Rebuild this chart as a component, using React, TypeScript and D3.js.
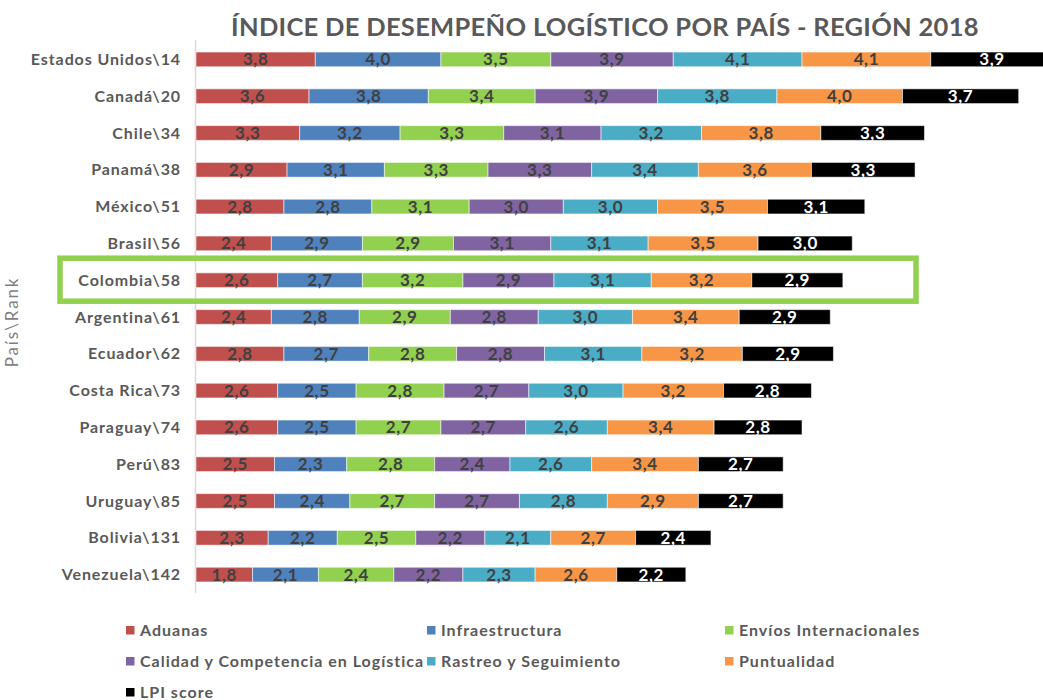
import React from "react";
import * as d3 from "d3";

const countries = [
  "Estados Unidos\\14", "Canadá\\20", "Chile\\34", "Panamá\\38", "México\\51", "Brasil\\56",
  "Colombia\\58", "Argentina\\61", "Ecuador\\62", "Costa Rica\\73", "Paraguay\\74", "Perú\\83",
  "Uruguay\\85", "Bolivia\\131", "Venezuela\\142",
];
const seriesNames = [
  "Aduanas", "Infraestructura", "Envíos Internacionales",
  "Calidad y Competencia en Logística", "Rastreo y Seguimiento", "Puntualidad", "LPI score",
];
const aduanas = [3.8, 3.6, 3.3, 2.9, 2.8, 2.4, 2.6, 2.4, 2.8, 2.6, 2.6, 2.5, 2.5, 2.3, 1.8];
const infraestructura = [4.0, 3.8, 3.2, 3.1, 2.8, 2.9, 2.7, 2.8, 2.7, 2.5, 2.5, 2.3, 2.4, 2.2, 2.1];
const envios = [3.5, 3.4, 3.3, 3.3, 3.1, 2.9, 3.2, 2.9, 2.8, 2.8, 2.7, 2.8, 2.7, 2.5, 2.4];
const calidad = [3.9, 3.9, 3.1, 3.3, 3.0, 3.1, 2.9, 2.8, 2.8, 2.7, 2.7, 2.4, 2.7, 2.2, 2.2];
const rastreo = [4.1, 3.8, 3.2, 3.4, 3.0, 3.1, 3.1, 3.0, 3.1, 3.0, 2.6, 2.6, 2.8, 2.1, 2.3];
const puntualidad = [4.1, 4.0, 3.8, 3.6, 3.5, 3.5, 3.2, 3.4, 3.2, 3.2, 3.4, 3.4, 2.9, 2.7, 2.6];
const lpi = [3.9, 3.7, 3.3, 3.3, 3.1, 3.0, 2.9, 2.9, 2.9, 2.8, 2.8, 2.7, 2.7, 2.4, 2.2];
const seriesValues = [aduanas, infraestructura, envios, calidad, rastreo, puntualidad, lpi];
const colors = ["#c0504d", "#4f81bd", "#92d050", "#8064a2", "#4bacc6", "#f79646", "#000000"];
const highlight = "Colombia\\58";
const title = "ÍNDICE DE DESEMPEÑO LOGÍSTICO POR PAÍS - REGIÓN 2018";
const yTitle = "País\\Rank";

const W = 1043, H = 700;
const FONT = "Lato, 'Open Sans', sans-serif";

export default function App() {
  const x = d3.scaleLinear().domain([0, 27]).range([196, 196 + 27 * 31.4]);
  const y = d3.scaleBand().domain(countries).range([41, 593]).paddingInner(0.6).paddingOuter(0.3);
  const fmt = (v: number) => v.toFixed(1).replace(".", ",");

  const rows = countries.map((c, i) => {
    let acc = 0;
    return seriesValues.map((s, k) => {
      const v = s[i];
      const seg = { k, x0: acc, x1: acc + v, v };
      acc += v;
      return seg;
    });
  });

  const bw = y.bandwidth();
  const hy = (y(highlight) as number) + bw / 2;

  const legendCols = [126, 427, 725];
  const legendRows = [630, 661, 692];

  return (
    <svg width={W} height={H} style={{ position: "absolute", left: 0, top: 0, background: "#fff" }}>
      <text x={605} y={36} textAnchor="middle" fontFamily={FONT} fontWeight={700} fontSize={25.5} letterSpacing={0.3} fill="#595959">
        {title}
      </text>
      <text transform={`translate(18,${322}) rotate(-90)`} textAnchor="middle" fontFamily={FONT} fontSize={17} letterSpacing={1.8} fill="#7f7f7f">
        {yTitle}
      </text>
      <line x1={195.5} x2={195.5} y1={40} y2={593} stroke="#d9d9d9" strokeWidth={1.5} />
      {countries.map((c, i) => {
        const cy = (y(c) as number) + bw / 2;
        return (
          <g key={c}>
            <text x={181} y={cy + 5.5} textAnchor="end" fontFamily={FONT} fontWeight={700} fontSize={16} letterSpacing={0.9} fill="#595959">
              {c}
            </text>
            {rows[i].map((s) => (
              <g key={s.k}>
                <rect
                  x={x(s.x0)}
                  y={y(c) as number}
                  width={x(s.x1) - x(s.x0)}
                  height={bw}
                  fill={colors[s.k]}
                  stroke="rgba(255,255,255,0.55)"
                  strokeWidth={1}
                />
                <text
                  x={(x(s.x0) + x(s.x1)) / 2}
                  y={cy + 6}
                  textAnchor="middle"
                  fontFamily={FONT}
                  fontWeight={700}
                  fontSize={17}
                  letterSpacing={0.6}
                  fill={s.k === 6 ? "#ffffff" : "#404040"}
                >
                  {fmt(s.v)}
                </text>
              </g>
            ))}
          </g>
        );
      })}
      <rect x={60} y={hy - 22} width={856} height={43} fill="none" stroke="#92d050" strokeWidth={5.5} />
      {seriesNames.map((n, k) => {
        const lx = legendCols[k % 3];
        const ly = legendRows[Math.floor(k / 3)];
        return (
          <g key={n}>
            <rect x={lx} y={ly - 4} width={8.5} height={8.5} fill={colors[k]} />
            <text x={lx + 14} y={ly + 6} fontFamily={FONT} fontWeight={700} fontSize={16} letterSpacing={1} fill="#595959">
              {n}
            </text>
          </g>
        );
      })}
    </svg>
  );
}
